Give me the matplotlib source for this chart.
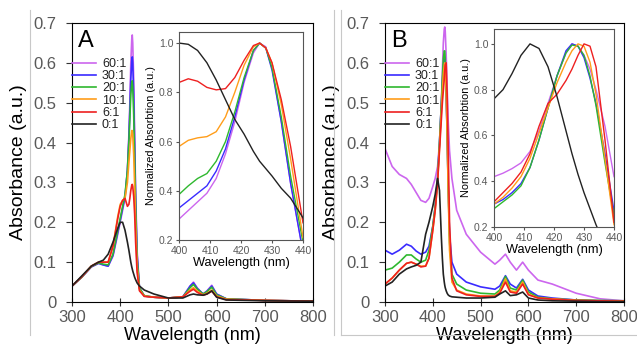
import matplotlib
matplotlib.use('Agg')
import matplotlib.pyplot as plt
from matplotlib.lines import Line2D

plt.rcParams['font.family'] = ['Liberation Sans', 'DejaVu Sans']

labels = ['60:1', '30:1', '20:1', '10:1', '6:1', '0:1']
colors = ['#cc66ee', '#3a2bff', '#2fb82f', '#ff9d1a', '#ee2020', '#222222']

# panel A, main spectra
wl_a = [300, 320, 340, 355, 365, 375, 385, 395, 400, 405, 410, 415, 418, 420, 422, 424,
        425, 426, 428, 430, 432, 435, 440, 450, 470, 500, 530, 545, 552, 560, 572, 580,
        590, 600, 620, 700, 800]
a_60 = [0.04, 0.062, 0.088, 0.097, 0.093, 0.09, 0.115, 0.17, 0.2, 0.23, 0.26, 0.33, 0.42,
        0.5, 0.6, 0.66, 0.67, 0.65, 0.56, 0.42, 0.28, 0.13, 0.035, 0.015, 0.012, 0.01,
        0.013, 0.04, 0.05, 0.035, 0.02, 0.028, 0.042, 0.02, 0.008, 0.004, 0.002]
a_30 = [0.04, 0.062, 0.088, 0.097, 0.093, 0.09, 0.117, 0.175, 0.205, 0.235, 0.265, 0.33,
        0.41, 0.48, 0.56, 0.605, 0.615, 0.6, 0.52, 0.39, 0.26, 0.12, 0.035, 0.015, 0.012,
        0.01, 0.013, 0.04, 0.048, 0.034, 0.02, 0.027, 0.04, 0.02, 0.008, 0.004, 0.002]
a_20 = [0.04, 0.062, 0.089, 0.098, 0.095, 0.093, 0.12, 0.18, 0.21, 0.24, 0.27, 0.33, 0.4,
        0.46, 0.52, 0.55, 0.555, 0.54, 0.47, 0.36, 0.24, 0.11, 0.035, 0.016, 0.012, 0.01,
        0.013, 0.036, 0.044, 0.032, 0.02, 0.026, 0.037, 0.018, 0.008, 0.004, 0.002]
a_10 = [0.04, 0.063, 0.09, 0.1, 0.1, 0.1, 0.14, 0.215, 0.245, 0.255, 0.26, 0.3, 0.35, 0.38,
        0.41, 0.43, 0.43, 0.42, 0.37, 0.29, 0.19, 0.09, 0.03, 0.015, 0.012, 0.01, 0.013,
        0.03, 0.036, 0.027, 0.018, 0.022, 0.03, 0.015, 0.007, 0.004, 0.002]
a_6 = [0.04, 0.063, 0.09, 0.1, 0.1, 0.1, 0.14, 0.21, 0.24, 0.255, 0.26, 0.24, 0.245, 0.26,
       0.28, 0.293, 0.295, 0.29, 0.265, 0.22, 0.15, 0.075, 0.028, 0.014, 0.012, 0.01,
       0.013, 0.027, 0.032, 0.024, 0.017, 0.02, 0.027, 0.013, 0.006, 0.004, 0.002]
a_0 = [0.04, 0.065, 0.09, 0.1, 0.105, 0.12, 0.15, 0.185, 0.2, 0.2, 0.18, 0.15, 0.13, 0.115,
       0.1, 0.088, 0.083, 0.078, 0.07, 0.062, 0.056, 0.048, 0.04, 0.03, 0.02, 0.01, 0.01,
       0.018, 0.02, 0.018, 0.017, 0.02, 0.028, 0.012, 0.005, 0.003, 0.002]

# panel B, main spectra
wl_b = [300, 315, 330, 345, 355, 365, 375, 385, 392, 400, 405, 410, 414, 418, 420, 422,
        424, 425, 426, 428, 430, 432, 435, 440, 450, 470, 500, 530, 540, 552, 562, 575,
        588, 600, 620, 650, 700, 750, 800]
b_60 = [0.385, 0.34, 0.32, 0.31, 0.295, 0.275, 0.255, 0.25, 0.26, 0.29, 0.31, 0.34, 0.4,
        0.5, 0.58, 0.65, 0.685, 0.69, 0.68, 0.62, 0.54, 0.46, 0.38, 0.31, 0.23, 0.17,
        0.125, 0.095, 0.105, 0.12, 0.1, 0.08, 0.1, 0.08, 0.055, 0.045, 0.022, 0.008, 0.003]
b_30 = [0.13, 0.12, 0.13, 0.145, 0.14, 0.128, 0.12, 0.125, 0.14, 0.19, 0.24, 0.31, 0.4,
        0.5, 0.55, 0.59, 0.61, 0.608, 0.59, 0.52, 0.42, 0.3, 0.17, 0.1, 0.07, 0.05, 0.038,
        0.032, 0.04, 0.066, 0.045, 0.035, 0.057, 0.03, 0.015, 0.01, 0.005, 0.003, 0.002]
b_20 = [0.08, 0.085, 0.1, 0.118, 0.118, 0.108, 0.1, 0.105, 0.13, 0.19, 0.24, 0.31, 0.4,
        0.5, 0.56, 0.61, 0.63, 0.63, 0.61, 0.53, 0.42, 0.3, 0.15, 0.07, 0.045, 0.03, 0.022,
        0.02, 0.03, 0.064, 0.035, 0.03, 0.055, 0.025, 0.012, 0.008, 0.005, 0.004, 0.003]
b_10 = [0.045, 0.06, 0.08, 0.097, 0.1, 0.095, 0.09, 0.09, 0.11, 0.18, 0.23, 0.3, 0.39,
        0.48, 0.53, 0.57, 0.595, 0.6, 0.59, 0.53, 0.42, 0.29, 0.13, 0.05, 0.03, 0.02,
        0.015, 0.015, 0.025, 0.058, 0.028, 0.025, 0.05, 0.02, 0.01, 0.008, 0.004, 0.003,
        0.002]
b_6 = [0.045, 0.06, 0.08, 0.097, 0.1, 0.095, 0.088, 0.09, 0.11, 0.18, 0.23, 0.3, 0.38,
       0.46, 0.5, 0.53, 0.56, 0.58, 0.595, 0.6, 0.52, 0.4, 0.2, 0.06, 0.028, 0.018, 0.014,
       0.014, 0.022, 0.05, 0.025, 0.022, 0.045, 0.018, 0.01, 0.007, 0.004, 0.003, 0.002]
b_0 = [0.04, 0.05, 0.07, 0.083, 0.088, 0.092, 0.1, 0.17, 0.2, 0.24, 0.27, 0.31, 0.28, 0.16,
       0.11, 0.07, 0.05, 0.042, 0.036, 0.028, 0.022, 0.018, 0.015, 0.013, 0.012, 0.01,
       0.01, 0.012, 0.02, 0.028, 0.016, 0.018, 0.025, 0.01, 0.005, 0.003, 0.002, 0.001,
       0.001]

# insets, normalized
wl_ia = [400, 403, 406, 409, 412, 415, 418, 421, 424, 426, 428, 430, 433, 436, 440]
ia_60 = [0.285, 0.32, 0.355, 0.39, 0.45, 0.55, 0.68, 0.84, 0.96, 1.0, 0.985, 0.9, 0.68, 0.43, 0.15]
ia_30 = [0.33, 0.36, 0.39, 0.42, 0.48, 0.57, 0.7, 0.85, 0.97, 1.0, 0.98, 0.89, 0.68, 0.43, 0.15]
ia_20 = [0.385, 0.42, 0.45, 0.47, 0.52, 0.6, 0.72, 0.86, 0.97, 1.0, 0.98, 0.9, 0.7, 0.46, 0.19]
ia_10 = [0.58, 0.605, 0.615, 0.62, 0.64, 0.7, 0.8, 0.91, 0.985, 1.0, 0.98, 0.92, 0.75, 0.53, 0.21]
ia_6 = [0.84, 0.855, 0.845, 0.82, 0.81, 0.815, 0.86, 0.93, 0.99, 1.0, 0.98, 0.92, 0.77, 0.58, 0.27]
ia_0 = [1.0, 0.995, 0.97, 0.92, 0.85, 0.77, 0.69, 0.63, 0.56, 0.52, 0.49, 0.46, 0.41, 0.37, 0.29]

wl_ib = [400, 403, 406, 409, 412, 415, 418, 421, 424, 426, 428, 430, 432, 434, 437, 440]
ib_60 = [0.42, 0.435, 0.455, 0.48, 0.53, 0.62, 0.74, 0.86, 0.96, 1.0, 0.99, 0.95, 0.89, 0.8, 0.64, 0.42]
ib_30 = [0.3, 0.32, 0.35, 0.39, 0.46, 0.58, 0.72, 0.86, 0.97, 1.0, 0.99, 0.94, 0.85, 0.74, 0.52, 0.27]
ib_20 = [0.28, 0.31, 0.34, 0.38, 0.46, 0.58, 0.72, 0.86, 0.96, 0.995, 0.99, 0.95, 0.86, 0.73, 0.48, 0.25]
ib_10 = [0.3, 0.33, 0.37, 0.42, 0.5, 0.61, 0.72, 0.83, 0.92, 0.97, 1.0, 0.99, 0.92, 0.78, 0.5, 0.21]
ib_6 = [0.31, 0.35, 0.39, 0.44, 0.52, 0.64, 0.74, 0.78, 0.84, 0.89, 0.95, 1.0, 0.99, 0.9, 0.58, 0.22]
ib_0 = [0.76, 0.8, 0.87, 0.95, 1.0, 0.98, 0.9, 0.77, 0.62, 0.52, 0.43, 0.35, 0.28, 0.21, 0.12, 0.05]

gray = '#595959'
fig = plt.figure(figsize=(6.37, 3.54), dpi=100)

# light panel frames
frame = '#c8c8c8'
W, H = 637.0, 354.0
for x in (30, 334, 341):
    fig.add_artist(Line2D([x / W, x / W], [1 - 10 / H, 1 - 335 / H], color=frame, lw=0.8))
fig.add_artist(Line2D([341 / W, 1.0], [1 - 335 / H, 1 - 335 / H], color=frame, lw=0.8))


def main_panel(rect, wl, series, letter):
    ax = fig.add_axes(rect)
    for y, c, lab in zip(series, colors, labels):
        ax.plot(wl, y, color=c, lw=1.2, label=lab)
    ax.set_xlim(300, 800)
    ax.set_ylim(0, 0.7)
    ax.set_xticks([300, 400, 500, 600, 700, 800])
    ax.set_yticks([0, 0.1, 0.2, 0.3, 0.4, 0.5, 0.6, 0.7])
    ax.set_yticklabels(['0', '0.1', '0.2', '0.3', '0.4', '0.5', '0.6', '0.7'])
    ax.tick_params(axis='x', direction='inout', length=6, labelsize=12, labelcolor=gray,
                   color='#333333', pad=3)
    ax.tick_params(axis='y', direction='out', length=4, labelsize=12, labelcolor=gray,
                   color='#333333', pad=7)
    ax.set_xlabel('Wavelength (nm)', fontsize=13, labelpad=1)
    ax.set_ylabel('Absorbance (a.u.)', fontsize=14, labelpad=5)
    ax.text(0.025, 0.975, letter, transform=ax.transAxes, fontsize=17, va='top', ha='left')
    leg = ax.legend(loc='upper left', bbox_to_anchor=(0.0, 0.875), frameon=False,
                    fontsize=9, handlelength=1.9, labelspacing=0.02, handletextpad=0.5,
                    borderpad=0, borderaxespad=0)
    for t in leg.get_texts():
        t.set_color('#222222')
    return ax


def inset_panel(rect, wl, series, ytop):
    ax = fig.add_axes(rect)
    for y, c in zip(series, colors):
        ax.plot(wl, y, color=c, lw=1.0)
    ax.set_xlim(400, 440)
    ax.set_ylim(0.2, ytop)
    ax.set_xticks([400, 410, 420, 430, 440])
    ax.set_yticks([0.2, 0.4, 0.6, 0.8, 1.0])
    ax.set_yticklabels(['0.2', '0.4', '0.6', '0.8', '1.0'])
    ax.tick_params(length=2, labelsize=7.5, labelcolor=gray, color='#555555', pad=2)
    for s in ax.spines.values():
        s.set_color('#555555')
        s.set_linewidth(0.8)
    ax.set_xlabel('Wavelength (nm)', fontsize=9.2, labelpad=1)
    ax.set_ylabel('Normalized Absorbtion (a.u.)', fontsize=7.8, labelpad=2)
    return ax


main_panel([72 / W, 1 - 302 / H, 241 / W, 279 / H], wl_a,
           [a_60, a_30, a_20, a_10, a_6, a_0], 'A')
inset_panel([179 / W, 1 - 240 / H, 124 / W, 208 / H], wl_ia,
            [ia_60, ia_30, ia_20, ia_10, ia_6, ia_0], 1.045)

main_panel([385 / W, 1 - 302 / H, 239 / W, 279 / H], wl_b,
           [b_60, b_30, b_20, b_10, b_6, b_0], 'B')
inset_panel([494 / W, 1 - 227 / H, 120 / W, 198 / H], wl_ib,
            [ib_60, ib_30, ib_20, ib_10, ib_6, ib_0], 1.065)

fig.savefig('out.png', dpi=100)
